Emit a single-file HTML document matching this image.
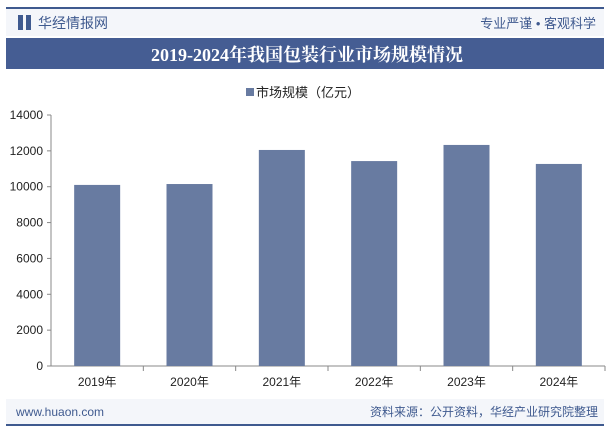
<!DOCTYPE html>
<html><head><meta charset="utf-8">
<style>
body{margin:0;width:614px;height:434px;background:#fff;overflow:hidden;font-family:"Liberation Sans","Noto Sans CJK SC",sans-serif;}
</style></head>
<body>
<svg width="614" height="434" xmlns="http://www.w3.org/2000/svg">
  <rect x="0" y="0" width="614" height="434" fill="#fff"/>
  <line x1="6" y1="8" x2="604" y2="8" stroke="#3f5a8f" stroke-width="2"/>
  <rect x="6" y="9" width="598" height="27" fill="#f4f6fa"/>
  <rect x="18" y="15" width="5" height="15" fill="#3f5a8f"/>
  <rect x="26" y="15" width="5" height="15" fill="#3f5a8f"/>
  <text x="38" y="28" font-size="14" fill="#3f5a8f">华经情报网</text>
  <text x="596" y="28" font-size="13" fill="#3f5a8f" text-anchor="end">专业严谨 • 客观科学</text>
  <rect x="6" y="38" width="598" height="31" fill="#455d93"/>
  <text x="307" y="61" font-size="18" font-weight="bold" fill="#fff" text-anchor="middle" font-family="Liberation Serif,'Noto Serif CJK SC',serif">2019-2024年我国包装行业市场规模情况</text>
  <rect x="246" y="88" width="8" height="8" fill="#687ba1"/>
  <text x="256" y="97" font-size="13" fill="#222">市场规模（亿元）</text>
  <g id="plot"></g>
  <rect x="6" y="399" width="598" height="25" fill="#f4f6fa"/>
  <text x="16" y="416" font-size="12" fill="#3f5a8f">www.huaon.com</text>
  <text x="598" y="416" font-size="12" fill="#3f5a8f" text-anchor="end">资料来源：公开资料，华经产业研究院整理</text>
  <line x1="6" y1="425" x2="604" y2="425" stroke="#3f5a8f" stroke-width="2"/>
</svg>
<script>
const categories=["2019年","2020年","2021年","2022年","2023年","2024年"];
const values=[10100,10150,12050,11430,12330,11270];
const yTicks=[0,2000,4000,6000,8000,10000,12000,14000];
const NS="http://www.w3.org/2000/svg";
const g=document.getElementById("plot");
const x0=51,x1=605,y0=366,y1=115,yMax=14000;
const bw=(x1-x0)/categories.length;
const y=v=>y0-(v/yMax)*(y0-y1);
function mk(t,a){const e=document.createElementNS(NS,t);for(const k in a)e.setAttribute(k,a[k]);g.appendChild(e);return e;}
yTicks.forEach(v=>{
  const t=mk("text",{x:x0-8,y:y(v)+4,"font-size":12,fill:"#222","text-anchor":"end"});
  t.textContent=v;
  
  
  mk("line",{x1:x0-4,y1:y(v),x2:x0,y2:y(v),stroke:"#888"});
});
const ax=mk("line",{x1:x0,y1:y1,x2:x0,y2:y0,stroke:"#888"});


const bx=mk("line",{x1:x0,y1:y0,x2:x1,y2:y0,stroke:"#888"});


categories.forEach((c,i)=>{
  const cx=x0+bw*(i+0.5);
  const r=mk("rect",{x:cx-23,y:y(values[i]),width:46,height:y0-y(values[i]),fill:"#687ba1"});
  
  
  mk("line",{x1:x0+bw*(i+1),y1:y0,x2:x0+bw*(i+1),y2:y0+5,stroke:"#888"});
  const t=mk("text",{x:cx,y:y0+20,"font-size":12,fill:"#222","text-anchor":"middle"});
  t.textContent=c;
  
  
});
</script>
</body></html>
